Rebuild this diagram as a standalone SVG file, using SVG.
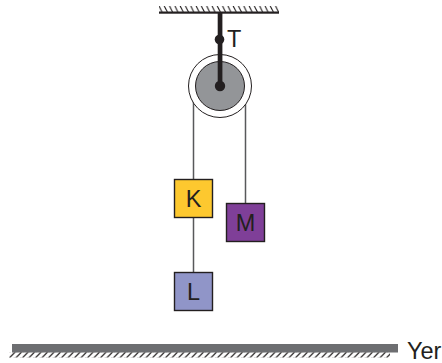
<svg xmlns="http://www.w3.org/2000/svg" width="442" height="363" viewBox="0 0 442 363">
<style>
text{font-family:"Liberation Sans",Arial,sans-serif;font-size:23.500px;fill:#231f20}
.rope{stroke:#58595b;stroke-width:1.500;fill:none}
.block{stroke:#231f20;stroke-width:1.400}
.hatch{stroke:#231f20;stroke-width:1.100;fill:none}
.ghatch{stroke:#231f20;stroke-width:1.200;fill:none}
</style>
<defs>
<pattern id="h1" width="5.300" height="6" patternUnits="userSpaceOnUse" patternTransform="translate(158 6)"><path d="M1 0L4 6" class="hatch"/></pattern>
<pattern id="h2" width="6.500" height="5.500" patternUnits="userSpaceOnUse" patternTransform="translate(9 352.200)"><path d="M6 0L0.500 5.500" class="ghatch"/></pattern>
</defs>
<g id="ceiling">
<rect x="159" y="6" width="120" height="6" fill="url(#h1)"/>
<rect x="159" y="11.500" width="120" height="2.200" fill="#231f20"/>
</g>
<g id="connectors">
<path class="rope" d="M193.500 100V179M245.500 100V203M193.500 217V272"/>
</g>
<g id="pulley">
<circle cx="220" cy="86" r="31.500" fill="#fff" stroke="#231f20" stroke-width="1"/>
<circle cx="220" cy="86" r="24.500" fill="#939598" stroke="#231f20" stroke-width="1"/>
</g>
<g id="rod">
<rect x="217.700" y="12" width="4.700" height="74" fill="#231f20"/>
<circle cx="219.500" cy="39.500" r="4.800" fill="#231f20"/>
<circle cx="220" cy="86" r="5.200" fill="#231f20"/>
</g>
<g id="label-T"><text x="227" y="46.500">T</text></g>
<g id="block-K"><rect class="block" x="174.500" y="179.500" width="38" height="38" fill="#fdc82f"/><text x="193.500" y="206.500" text-anchor="middle">K</text></g>
<g id="block-M"><rect class="block" x="226.500" y="203.500" width="38" height="38" fill="#7f3f98"/><text x="245.500" y="230.500" text-anchor="middle">M</text></g>
<g id="block-L"><rect class="block" x="174.500" y="272.500" width="38" height="38" fill="#9095c8"/><text x="193.500" y="299.500" text-anchor="middle">L</text></g>
<g id="ground">
<rect x="12" y="344" width="386" height="8.500" fill="#6d6e71"/>
<rect x="9" y="352.200" width="381" height="5.500" fill="url(#h2)"/>
<text x="407" y="358.500">Yer</text>
</g>
</svg>
